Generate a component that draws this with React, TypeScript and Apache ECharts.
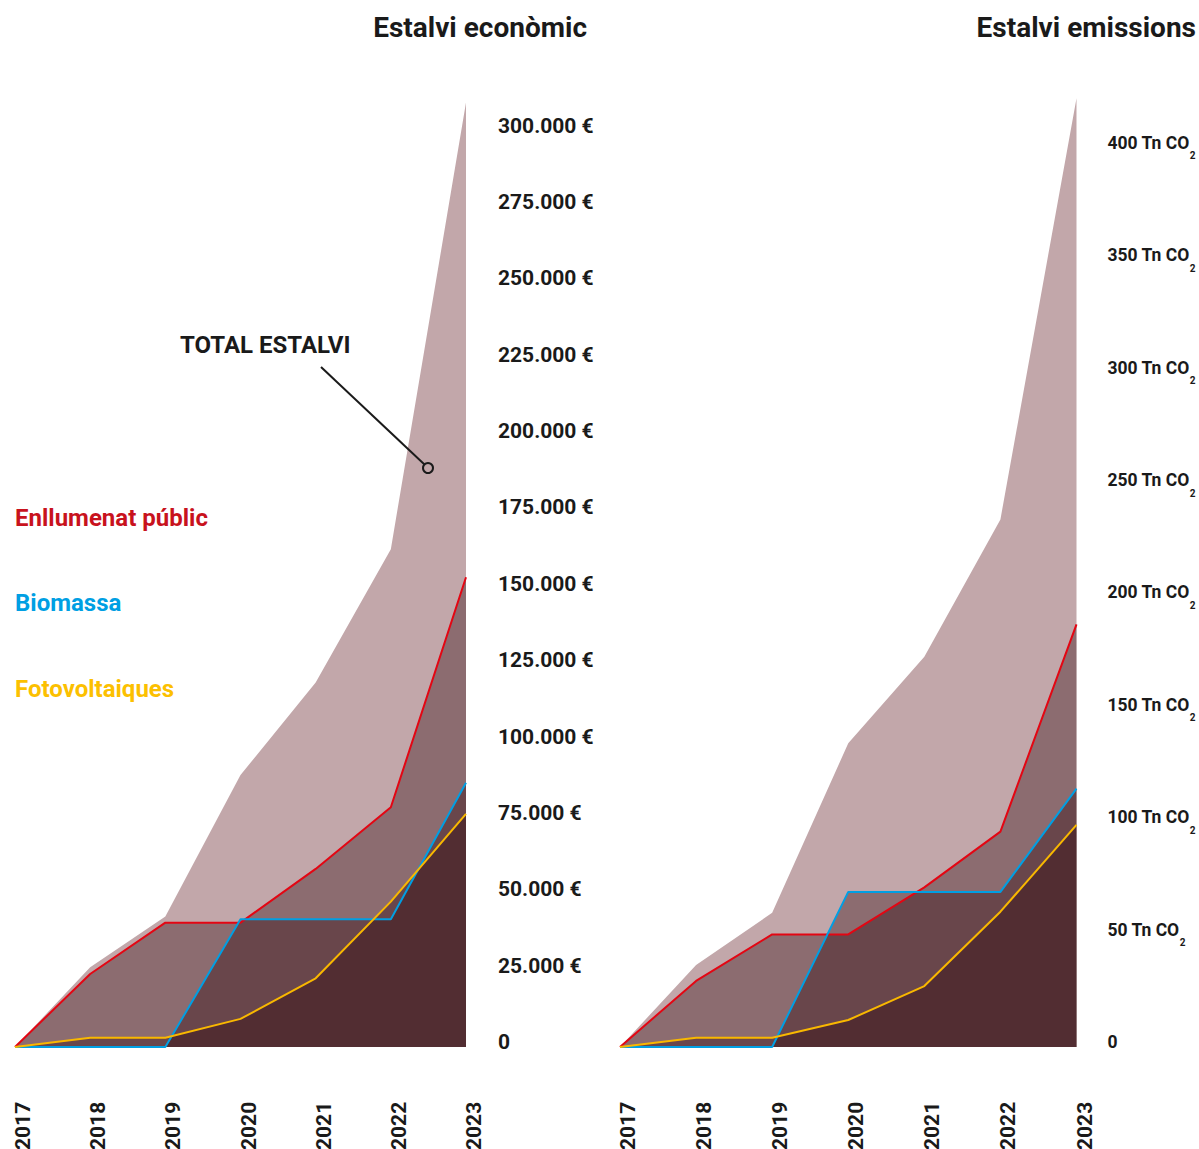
import React, { useEffect, useRef } from 'react';
import * as echarts from 'echarts';

const years = ['2017', '2018', '2019', '2020', '2021', '2022', '2023'];

// Estalvi econòmic (€)
const ecoTotal = [0, 26100, 42700, 89050, 119300, 163000, 309200];
const ecoEnllumenat = [0, 23900, 40700, 40700, 58300, 78500, 153800];
const ecoBiomassa = [0, 0, 0, 41800, 41800, 41800, 86500];
const ecoFotovoltaiques = [0, 3050, 3050, 9200, 22500, 47600, 76300];

// Estalvi emissions (Tn CO2)
const emiTotal = [0, 36.5, 59.7, 135.1, 173.6, 234.7, 422];
const emiEnllumenat = [0, 29.4, 50.1, 50.1, 71, 95.8, 188];
const emiBiomassa = [0, 0, 0, 69, 69, 69, 114.9];
const emiFotovoltaiques = [0, 4.1, 4.1, 12, 27.1, 60.2, 98.8];

const legendNames = ['Enllumenat públic', 'Biomassa', 'Fotovoltaiques'];

const LABEL_FONT = "Roboto, 'Noto Sans', sans-serif";
const SANS = "Roboto, 'Noto Sans', sans-serif";
const INK = '#1a1a1a';
const RED = '#e30613';
const BLUE = '#009fe3';
const YELLOW = '#f9b800';
const TOTAL_FILL = '#c2a7aa';
const SHADE = 'rgba(40,0,5,0.35)';

function euro(v: number): string {
  if (v === 0) return '0';
  return String(v).replace(/\B(?=(\d{3})+(?!\d))/g, '.') + ' €';
}

export default function App() {
  const ref = useRef<HTMLDivElement>(null);

  useEffect(() => {
    const chart = echarts.init(ref.current!, null, { renderer: 'svg' });

    const seriesFor = (idx: number, total: number[], parts: number[][]) => {
      const colors = [RED, BLUE, YELLOW];
      const out: any[] = [];
      out.push({
        type: 'line', xAxisIndex: idx, yAxisIndex: idx, data: total,
        symbol: 'none', silent: true, lineStyle: { width: 0, opacity: 0 },
        areaStyle: { color: TOTAL_FILL, opacity: 1 }, z: 1,
      });
      parts.forEach((d) => {
        out.push({
          type: 'line', xAxisIndex: idx, yAxisIndex: idx, data: d,
          symbol: 'none', silent: true, lineStyle: { width: 0, opacity: 0 },
          areaStyle: { color: SHADE, opacity: 1 }, z: 2,
        });
      });
      parts.forEach((d, i) => {
        out.push({
          name: legendNames[i],
          type: 'line', xAxisIndex: idx, yAxisIndex: idx, data: d,
          symbol: 'none', silent: true, clip: false,
          lineStyle: { width: 2, color: colors[i] }, z: 3 + i,
        });
      });
      return out;
    };

    const xAxisBase = {
      type: 'category', boundaryGap: false, data: years,
      axisLine: { show: false }, axisTick: { show: false }, splitLine: { show: false },
      axisLabel: {
        interval: 0, rotate: 90, align: 'left', verticalAlign: 'top', lineHeight: 16,
        margin: 103, fontSize: 21, fontFamily: LABEL_FONT, fontWeight: 'bold', color: INK,
      },
    };

    const option: any = {
      animation: false,
      backgroundColor: '#ffffff',
      grid: [
        { left: 15, width: 451, top: 1047 - 13 * 76.36, bottom: 102, containLabel: false, outerBoundsMode: 'none' },
        { left: 620, width: 456.5, top: 1047 - 9 * 112.4, bottom: 102, containLabel: false, outerBoundsMode: 'none' },
      ],
      xAxis: [
        { ...xAxisBase, gridIndex: 0 },
        { ...xAxisBase, gridIndex: 1 },
      ],
      yAxis: [
        {
          type: 'value', gridIndex: 0, position: 'right', min: 0, max: 325000, interval: 25000,
          splitLine: { show: false }, axisLine: { show: false }, axisTick: { show: false },
          axisLabel: {
            margin: 32, showMaxLabel: false, align: 'left', verticalAlign: 'bottom', lineHeight: 10,
            fontSize: 21, fontFamily: LABEL_FONT, fontWeight: 'bold', color: INK,
            formatter: (v: number) => euro(v),
          },
        },
        {
          type: 'value', gridIndex: 1, position: 'right', min: 0, max: 450, interval: 50,
          splitLine: { show: false }, axisLine: { show: false }, axisTick: { show: false },
          axisLabel: {
            margin: 31, showMaxLabel: false, align: 'left', padding: [0, 0, 10, 0],
            color: INK,
            formatter: (v: number) => (v === 0 ? '{a|0}' : `{a|${v} Tn CO}{b|2}`),
            rich: {
              a: { fontSize: 17.5, lineHeight: 36, fontFamily: LABEL_FONT, fontWeight: 'bold', color: INK },
              b: { fontSize: 10, lineHeight: 11, verticalAlign: 'bottom', fontFamily: LABEL_FONT, fontWeight: 'bold', color: INK },
            },
          },
        },
      ],
      series: [
        ...seriesFor(0, ecoTotal, [ecoEnllumenat, ecoBiomassa, ecoFotovoltaiques]),
        ...seriesFor(1, emiTotal, [emiEnllumenat, emiBiomassa, emiFotovoltaiques]),
      ],
      graphic: [
        {
          type: 'text', x: 587, y: 27, silent: true,
          style: { text: 'Estalvi econòmic', font: `bold 28px ${SANS}`, fill: INK, align: 'right', verticalAlign: 'middle' },
        },
        {
          type: 'text', x: 1196, y: 27, silent: true,
          style: { text: 'Estalvi emissions', font: `bold 28px ${SANS}`, fill: INK, align: 'right', verticalAlign: 'middle' },
        },
        {
          type: 'text', x: 15, y: 518, silent: true,
          style: { text: legendNames[0], font: `bold 24px ${SANS}`, fill: '#c8121d', align: 'left', verticalAlign: 'middle' },
        },
        {
          type: 'text', x: 15, y: 603, silent: true,
          style: { text: legendNames[1], font: `bold 24px ${SANS}`, fill: BLUE, align: 'left', verticalAlign: 'middle' },
        },
        {
          type: 'text', x: 15, y: 689, silent: true,
          style: { text: legendNames[2], font: `bold 24px ${SANS}`, fill: '#fcc000', align: 'left', verticalAlign: 'middle' },
        },
        {
          type: 'text', x: 180, y: 345, silent: true,
          style: { text: 'TOTAL ESTALVI', font: `bold 24px ${SANS}`, fill: INK, align: 'left', verticalAlign: 'middle' },
        },
        {
          type: 'line', silent: true, z: 100,
          shape: { x1: 321, y1: 367, x2: 424.5, y2: 464.5 },
          style: { stroke: INK, lineWidth: 2 },
        },
        {
          type: 'circle', silent: true, z: 100,
          shape: { cx: 428, cy: 468, r: 5 },
          style: { stroke: INK, lineWidth: 2, fill: 'none' },
        },
      ],
    };

    chart.setOption(option);
    return () => chart.dispose();
  }, []);

  return (
    <div
      ref={ref}
      style={{ position: 'fixed', left: 0, top: 0, width: 1199, height: 1149, background: '#fff' }}
    />
  );
}
